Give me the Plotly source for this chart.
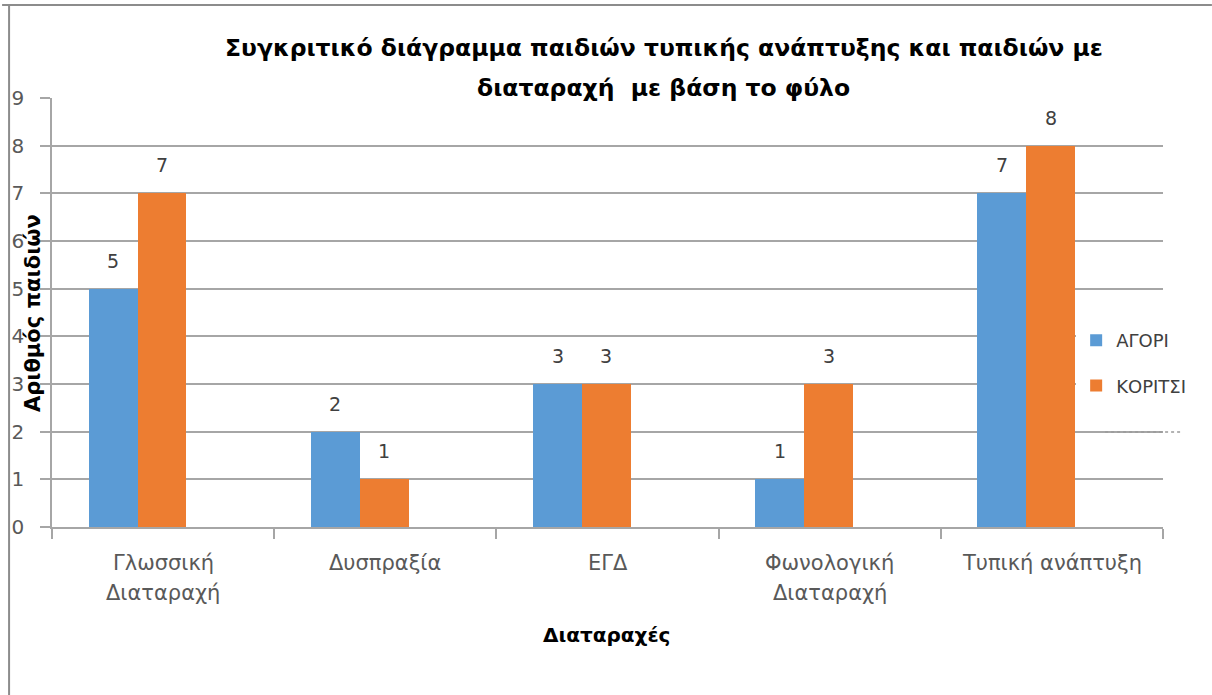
import plotly.graph_objects as go

# Categories (disorder types) and counts per gender
categories = ["Γλωσσική Διαταραχή", "Δυσπραξία", "ΕΓΔ", "Φωνολογική Διαταραχή", "Τυπική ανάπτυξη"]
category_lines = [["Γλωσσική", "Διαταραχή"], ["Δυσπραξία"], ["ΕΓΔ"], ["Φωνολογική", "Διαταραχή"], ["Τυπική ανάπτυξη"]]
boys = [5, 2, 3, 1, 7]
girls = [7, 1, 3, 3, 8]
y_ticks = [0, 1, 2, 3, 4, 5, 6, 7, 8, 9]

title_lines = ["Συγκριτικό διάγραμμα παιδιών τυπικής ανάπτυξης και παιδιών με",
               "διαταραχή  με βάση το φύλο"]
x_title = "Διαταραχές"
y_title = "Αριθμός παιδιών"

BLUE = "#5B9BD5"
ORANGE = "#ED7D31"
GRID = "#A6A6A6"
TITLE_FONT = "DejaVu Sans"
BODY_FONT = "DejaVu Sans"

W, H = 1212, 695
ML, MR, MT, MB = 50, 49, 98, 168
PW, PH = W - ML - MR, H - MT - MB


def px_x(px):
    return (px - ML) / PW


def px_y(py):
    return (H - MB - py) / PH


idx = list(range(len(categories)))
bar_w = 0.22
series = [
    ("ΑΓΟΡΙ", boys, BLUE, -0.335),
    ("ΚΟΡΙΤΣΙ", girls, ORANGE, -0.115),
]

fig = go.Figure()
for name, vals, color, off in series:
    fig.add_trace(go.Bar(
        x=idx, y=vals, name=name, marker_color=color, marker_line_width=0,
        width=bar_w, offset=off, legendgroup=name,
    ))

annotations = []
# value labels above each bar
for name, vals, color, off in series:
    for i, v in zip(idx, vals):
        annotations.append(dict(
            x=i + off + bar_w / 2, y=v, xref="x", yref="y", text=str(v),
            showarrow=False, yanchor="middle", yshift=28,
            font=dict(family=BODY_FONT, size=19, color="#404040"),
        ))

# category labels under the axis
for i, lines in zip(idx, category_lines):
    for k, line in enumerate(lines):
        annotations.append(dict(
            x=i, y=0, xref="x", yref="paper", text=line, showarrow=False,
            yanchor="middle", yshift=-36 - 30 * k,
            font=dict(family=BODY_FONT, size=21, color="#595959"),
        ))

# chart title (two lines)
for line, py in zip(title_lines, [48, 88]):
    annotations.append(dict(
        x=px_x(663), y=px_y(py), xref="paper", yref="paper", text=f"<b>{line}</b>",
        showarrow=False, xanchor="center", yanchor="middle",
        font=dict(family=TITLE_FONT, size=23.5, color="#000000"),
    ))

# axis titles
annotations.append(dict(
    x=px_x(605), y=px_y(635), xref="paper", yref="paper", text=f"<b>{x_title}</b>",
    showarrow=False, xanchor="center", yanchor="middle",
    font=dict(family=TITLE_FONT, size=20, color="#000000"),
))
annotations.append(dict(
    x=px_x(31), y=px_y(313), xref="paper", yref="paper", text=f"<b>{y_title}</b>",
    showarrow=False, xanchor="center", yanchor="middle", textangle=-90,
    font=dict(family=TITLE_FONT, size=21, color="#000000"),
))

shapes = [
    # frame of the chart area (top and left edges)
    dict(type="line", xref="paper", yref="paper", x0=px_x(0), x1=px_x(W), y0=px_y(5), y1=px_y(5),
         line=dict(color="#8C8C8C", width=2)),
    dict(type="line", xref="paper", yref="paper", x0=px_x(7), x1=px_x(7), y0=px_y(5), y1=px_y(H),
         line=dict(color="#8C8C8C", width=2)),
    # faint dotted remnant under the legend
    dict(type="line", xref="paper", yref="paper", x0=px_x(1105), x1=px_x(1182), y0=px_y(432), y1=px_y(432),
         line=dict(color="#9A9A9A", width=1.5, dash="dot")),
]

fig.update_layout(
    width=W, height=H,
    margin=dict(l=ML, r=MR, t=MT, b=MB),
    paper_bgcolor="white", plot_bgcolor="white",
    showlegend=True,
    legend=dict(
        x=px_x(1076), y=px_y(322), xanchor="left", yanchor="top",
        bgcolor="white", borderwidth=0, tracegroupgap=19,
        font=dict(family=BODY_FONT, size=18, color="#404040"),
        itemwidth=30,
    ),
    annotations=annotations,
    shapes=shapes,
    xaxis=dict(
        type="linear", range=[-0.5, len(categories) - 0.5],
        tickvals=[i - 0.5 for i in range(len(categories) + 1)],
        showticklabels=False, ticks="outside", ticklen=10, tickcolor=GRID, tickwidth=1.5,
        showline=True, linecolor=GRID, linewidth=1.5, showgrid=False, zeroline=False,
    ),
    yaxis=dict(
        range=[0, 9], tickvals=y_ticks, ticks="outside", ticklen=10, tickcolor=GRID, tickwidth=1.5,
        showline=True, linecolor=GRID, linewidth=1.5,
        showgrid=True, gridcolor=GRID, gridwidth=1.5, zeroline=False,
        tickfont=dict(family=BODY_FONT, size=20, color="#595959"),
        ticklabelstandoff=12,
    ),
    bargap=0,
)

fig.write_html("out.html")
